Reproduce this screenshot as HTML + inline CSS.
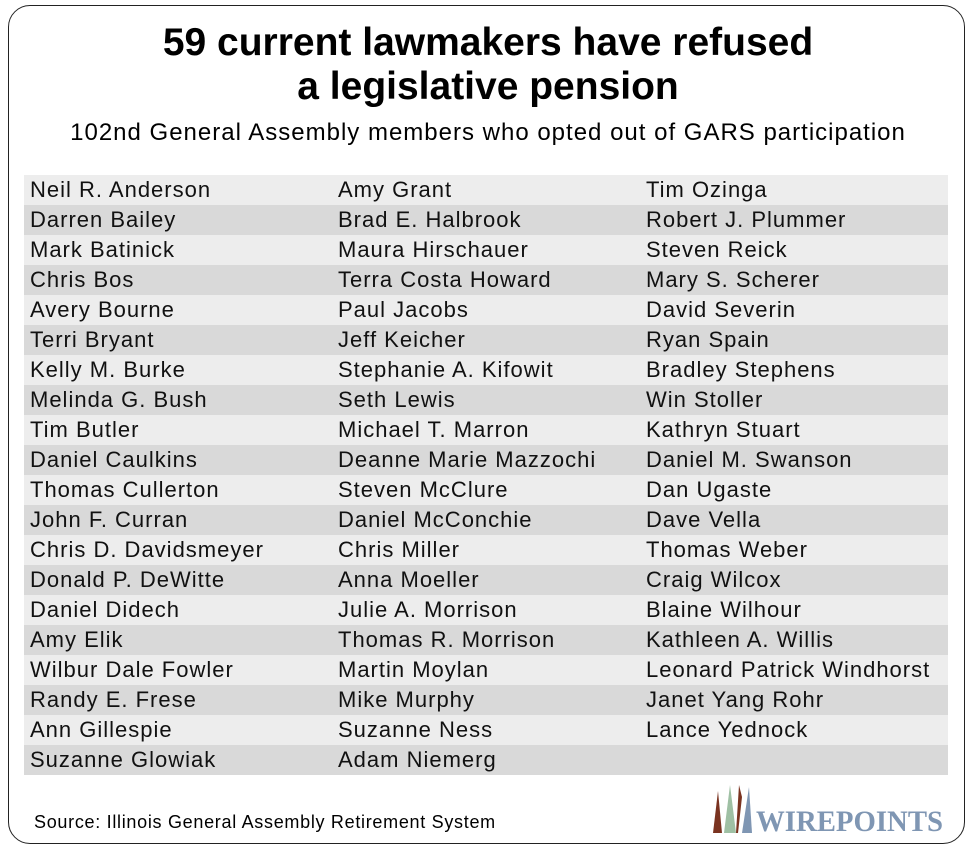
<!DOCTYPE html>
<html><head><meta charset="utf-8"><style>
body{margin:0;width:976px;height:853px;background:#fff;font-family:"Liberation Sans",Arial,sans-serif;position:relative;overflow:hidden}
.frame{position:absolute;left:8px;top:5px;width:957px;height:839px;border:1.5px solid #222;border-radius:22px;box-sizing:border-box}
.t{position:absolute;left:0;width:976px;text-align:center;color:#000}
.row{position:absolute;left:24px;width:924px;height:30px}
.cell{position:absolute;top:0;line-height:30px;font-size:22px;letter-spacing:1px;color:#111;white-space:nowrap}
</style></head><body>
<div class="frame"></div>
<div class="t" style="top:21px;font-size:39px;font-weight:bold;line-height:44px">59 current lawmakers have refused<br>a legislative pension</div>
<div class="t" style="top:119px;font-size:24px;letter-spacing:1px;line-height:28px">102nd General Assembly members who opted out of GARS participation</div>
<div id="tbl"></div>
<div style="position:absolute;left:34px;top:812px;font-size:18px;letter-spacing:0.7px">Source: Illinois General Assembly Retirement System</div>
<div style="position:absolute;left:710px;top:783px;width:250px;height:52px">
<svg width="250" height="52"><polygon points="3,50 8,8 12,50" fill="#7a3320"/><polygon points="14,50 20,2 26,50" fill="#9fc0a4"/><polygon points="26,50 29,2 32,14 28,50" fill="#7a3320"/><polygon points="32,50 39,4 42,50" fill="#7f96b3"/>
<text x="46" y="48" font-family="Liberation Serif,serif" font-weight="bold" font-size="30" fill="#7f96b3" textLength="187" lengthAdjust="spacingAndGlyphs">WIREPOINTS</text></svg></div>
<script>
const col1=["Neil R. Anderson","Darren Bailey","Mark Batinick","Chris Bos","Avery Bourne","Terri Bryant","Kelly M. Burke","Melinda G. Bush","Tim Butler","Daniel Caulkins","Thomas Cullerton","John F. Curran","Chris D. Davidsmeyer","Donald P. DeWitte","Daniel Didech","Amy Elik","Wilbur Dale Fowler","Randy E. Frese","Ann Gillespie","Suzanne Glowiak"];
const col2=["Amy Grant","Brad E. Halbrook","Maura Hirschauer","Terra Costa Howard","Paul Jacobs","Jeff Keicher","Stephanie A. Kifowit","Seth Lewis","Michael T. Marron","Deanne Marie Mazzochi","Steven McClure","Daniel McConchie","Chris Miller","Anna Moeller","Julie A. Morrison","Thomas R. Morrison","Martin Moylan","Mike Murphy","Suzanne Ness","Adam Niemerg"];
const col3=["Tim Ozinga","Robert J. Plummer","Steven Reick","Mary S. Scherer","David Severin","Ryan Spain","Bradley Stephens","Win Stoller","Kathryn Stuart","Daniel M. Swanson","Dan Ugaste","Dave Vella","Thomas Weber","Craig Wilcox","Blaine Wilhour","Kathleen A. Willis","Leonard Patrick Windhorst","Janet Yang Rohr","Lance Yednock"];
const cols=[col1,col2,col3];
const tbl=document.getElementById('tbl');
for(let i=0;i<20;i++){
 const r=document.createElement('div');r.className='row';
 
 
 r.style.top=(175+i*30)+'px';r.style.background=i%2?'#d9d9d9':'#ededed';
 cols.forEach((c,j)=>{if(c[i]){const s=document.createElement('span');s.className='cell';
 
 
 s.style.left=(6+j*308)+'px';s.textContent=c[i];r.appendChild(s);}});
 tbl.appendChild(r);
}
</script>
</body></html>
